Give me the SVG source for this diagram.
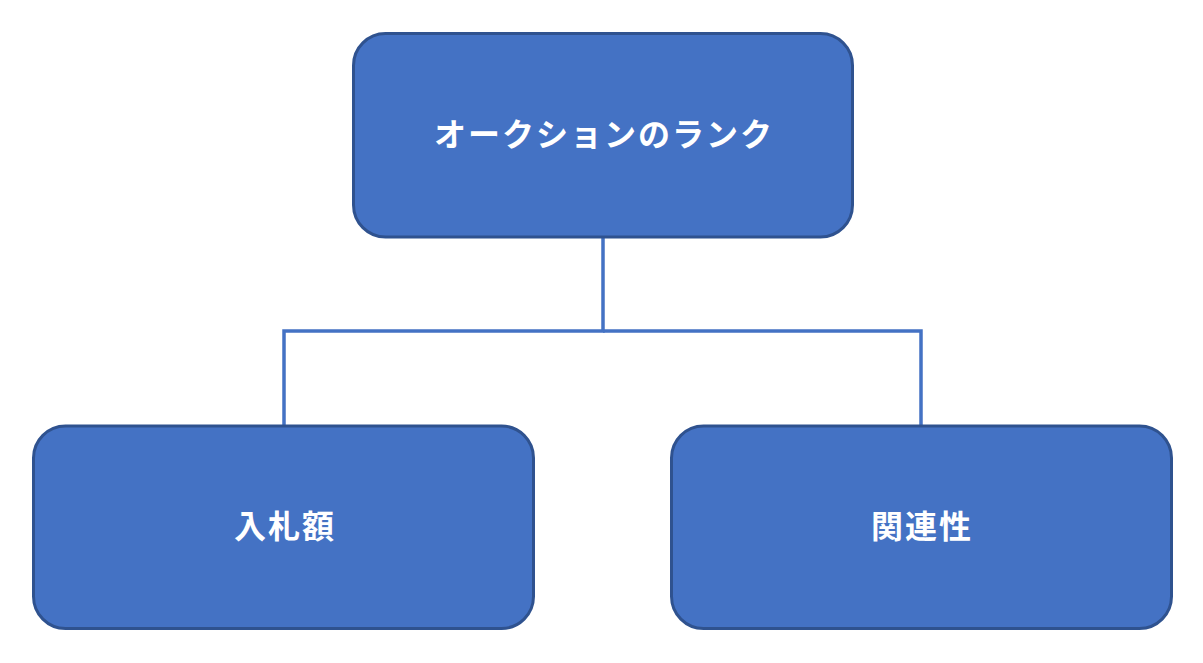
<svg xmlns="http://www.w3.org/2000/svg" width="1203" height="663" viewBox="0 0 1203 663">
<style>
.box{fill:#4472C4;stroke:#2F528F;stroke-width:3}
.lbl{fill:#FFFFFF;font-family:"Noto Sans CJK JP","Noto Sans",sans-serif;font-weight:bold;font-size:32px;letter-spacing:2px;text-anchor:middle;dominant-baseline:central}
.conn{fill:none;stroke:#4472C4;stroke-width:3.5}
</style>
<rect width="1203" height="663" fill="#FFFFFF"/>
<g id="connectors">
<polyline class="conn" points="603,237 603,331 284,331 284,426"/>
<polyline class="conn" points="603,331 921,331 921,426"/>
</g>
<g id="node-top">
<rect class="box" x="353.5" y="33.5" width="499" height="203.5" rx="32"/>
<text class="lbl" x="604" y="132">オークションのランク</text>
</g>
<g id="node-bid">
<rect class="box" x="33.5" y="426" width="500" height="202.5" rx="32"/>
<text class="lbl" x="285" y="524">入札額</text>
</g>
<g id="node-relevance">
<rect class="box" x="671.5" y="426" width="500" height="202.5" rx="32"/>
<text class="lbl" x="922" y="524">関連性</text>
</g>
</svg>
